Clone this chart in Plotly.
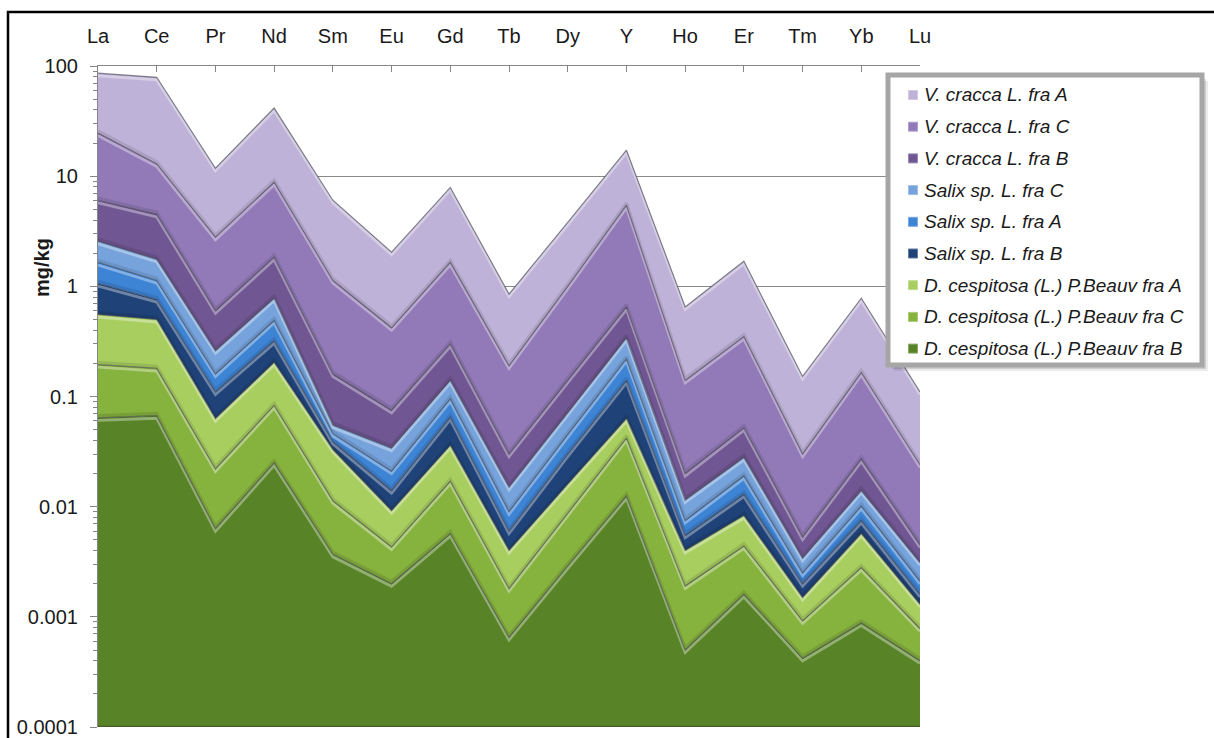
import plotly.graph_objects as go

# Rare-earth element concentrations (mg/kg); each list is the upper edge of its band
elements = ["La", "Ce", "Pr", "Nd", "Sm", "Eu", "Gd", "Tb", "Dy", "Y", "Ho", "Er", "Tm", "Yb", "Lu"]

dc_fra_B = [0.064, 0.067, 0.0063, 0.025, 0.0037, 0.002, 0.0057, 0.00065, 0.0029, 0.0125, 0.0005, 0.0016, 0.00042, 0.00088, 0.0004]
dc_fra_C = [0.195, 0.18, 0.022, 0.083, 0.0113, 0.0043, 0.017, 0.0018, 0.0087, 0.042, 0.0019, 0.0044, 0.00092, 0.0028, 0.00078]
dc_fra_A = [0.556, 0.5, 0.063, 0.204, 0.033, 0.0092, 0.036, 0.004, 0.016, 0.063, 0.004, 0.0083, 0.0015, 0.0057, 0.0013]
sx_fra_B = [1.06, 0.76, 0.11, 0.32, 0.039, 0.014, 0.065, 0.006, 0.03, 0.14, 0.0055, 0.013, 0.002, 0.0075, 0.0016]
sx_fra_A = [1.65, 1.13, 0.16, 0.49, 0.046, 0.021, 0.095, 0.009, 0.045, 0.22, 0.0075, 0.019, 0.0025, 0.0101, 0.0021]
sx_fra_C = [2.57, 1.76, 0.26, 0.78, 0.055, 0.034, 0.14, 0.015, 0.071, 0.34, 0.0115, 0.028, 0.0034, 0.014, 0.0031]
vc_fra_B = [6.05, 4.5, 0.6, 1.84, 0.16, 0.075, 0.30, 0.03, 0.14, 0.65, 0.02, 0.052, 0.0053, 0.027, 0.0045]
vc_fra_C = [24.6, 12.9, 2.79, 8.8, 1.13, 0.42, 1.65, 0.19, 1.0, 5.45, 0.14, 0.35, 0.030, 0.165, 0.024]
vc_fra_A = [86, 79, 11.8, 41.5, 6.05, 2.04, 7.9, 0.85, 3.8, 17.2, 0.65, 1.69, 0.152, 0.78, 0.11]

y_tick_vals = [0.0001, 0.001, 0.01, 0.1, 1, 10, 100]
y_tick_text = ["0.0001", "0.001", "0.01", "0.1", "1", "10", "100"]

# bands from the bottom of the stack to the top
bands = [
    ("D. cespitosa (L.) P.Beauv fra B", dc_fra_B, (88, 132, 39)),
    ("D. cespitosa (L.) P.Beauv fra C", dc_fra_C, (134, 178, 62)),
    ("D. cespitosa (L.) P.Beauv fra A", dc_fra_A, (168, 206, 96)),
    ("Salix sp. L. fra B", sx_fra_B, (31, 67, 120)),
    ("Salix sp. L. fra A", sx_fra_A, (62, 132, 212)),
    ("Salix sp. L. fra C", sx_fra_C, (118, 163, 220)),
    ("V. cracca L. fra B", vc_fra_B, (112, 86, 146)),
    ("V. cracca L. fra C", vc_fra_C, (146, 122, 184)),
    ("V. cracca L. fra A", vc_fra_A, (191, 178, 216)),
]

W, H = 1214, 738
X0, X1, Y0, Y1 = 98, 920, 66, 727   # plot area in pixels
DECADE_PX = (Y1 - Y0) / 6.0
FONT = "Liberation Sans, Arial, sans-serif"


def fx(x):
    return x / W


def fy(y):
    return 1 - y / H


def rgb(c, a=1.0):
    return f"rgba({c[0]},{c[1]},{c[2]},{a})"


def lighter(c, t):
    return tuple(int(v + (255 - v) * t) for v in c)


def shifted(vals, px):
    # move a boundary by a few screen pixels on the log axis (positive = up)
    f = 10 ** (px / DECADE_PX)
    return [v * f for v in vals]


fig = go.Figure()

# floor of the chart: the axis minimum
fig.add_trace(go.Scatter(x=elements, y=[y_tick_vals[0]] * len(elements), mode="lines",
                         line=dict(width=0), hoverinfo="skip", showlegend=False))

for name, vals, col in bands:
    fig.add_trace(go.Scatter(x=elements, y=vals, mode="lines", fill="tonexty",
                             fillcolor=rgb(col), line=dict(width=0),
                             name=name, showlegend=False))

# bevel look: soft shadow above each edge, dark rim on the edge, highlight under it
for i, (name, vals, col) in enumerate(bands):
    if i < len(bands) - 1:
        fig.add_trace(go.Scatter(x=elements, y=shifted(vals, 2.0), mode="lines",
                                 line=dict(color="rgba(0,0,0,0.10)", width=3.5),
                                 hoverinfo="skip", showlegend=False))
    fig.add_trace(go.Scatter(x=elements, y=shifted(vals, -2.6), mode="lines",
                             line=dict(color=rgb(lighter(col, 0.42), 0.85), width=2.8),
                             hoverinfo="skip", showlegend=False))
    fig.add_trace(go.Scatter(x=elements, y=vals, mode="lines",
                             line=dict(color="rgba(60,60,70,0.6)", width=1.2),
                             hoverinfo="skip", showlegend=False))

fig.add_trace(go.Scatter(x=elements, y=[y_tick_vals[0]] * len(elements), mode="lines",
                         line=dict(color="rgba(70,85,40,0.8)", width=2.5),
                         hoverinfo="skip", showlegend=False))

minor_vals = [k * 10 ** e for e in range(-4, 2) for k in range(2, 10)]

fig.update_layout(
    width=W, height=H, margin=dict(l=0, r=0, t=0, b=0),
    paper_bgcolor="white", plot_bgcolor="white", showlegend=False,
    font=dict(family=FONT, color="#1a1a1a"),
    xaxis=dict(domain=[fx(X0), fx(X1)], type="category", range=[0, len(elements) - 1],
               side="top", showline=True, linecolor="#868686", linewidth=1.2,
               ticks="inside", ticklen=6, tickcolor="#868686", showgrid=False,
               tickfont=dict(size=20, family=FONT, color="#1a1a1a"),
               ticklabelstandoff=14, automargin=False, zeroline=False),
    yaxis=dict(domain=[fy(Y1), fy(Y0)], type="log", range=[-4, 2],
               tickmode="array", tickvals=y_tick_vals, ticktext=y_tick_text,
               ticks="outside", ticklen=7, tickcolor="#868686",
               showline=True, linecolor="#868686", linewidth=1.2,
               showgrid=True, gridcolor="#8a8a8a", gridwidth=1.2,
               minor=dict(tickmode="array", tickvals=minor_vals, ticks="outside",
                          ticklen=4, tickcolor="#868686", showgrid=False),
               tickfont=dict(size=20, family=FONT, color="#1a1a1a"),
               ticklabelstandoff=8, automargin=False, zeroline=False),
)

shapes = []
# chart frame
shapes.append(dict(type="rect", xref="paper", yref="paper", x0=fx(8), x1=fx(1230),
                   y0=fy(12), y1=fy(760), line=dict(color="black", width=2.5),
                   fillcolor="rgba(0,0,0,0)", layer="above"))

# legend box with soft shadow
LX0, LX1, LY0, LY1 = 888, 1202, 75, 365
for off, a in [(6, 0.08), (4, 0.12), (2, 0.18)]:
    shapes.append(dict(type="rect", xref="paper", yref="paper",
                       x0=fx(LX0 + off), x1=fx(LX1 + off), y0=fy(LY0 + off), y1=fy(LY1 + off),
                       line=dict(width=0), fillcolor=f"rgba(0,0,0,{a})", layer="above"))
shapes.append(dict(type="rect", xref="paper", yref="paper", x0=fx(LX0), x1=fx(LX1),
                   y0=fy(LY0), y1=fy(LY1), line=dict(color="#a6a6a6", width=5),
                   fillcolor="white", layer="above"))

annotations = [dict(text="<b>mg/kg</b>", x=fx(29), y=fy(268), xref="paper", yref="paper",
                    textangle=-90, showarrow=False, font=dict(size=20, family=FONT, color="#1a1a1a"))]

row_y0, row_step = 95, 31.7
for i, (name, vals, col) in enumerate(reversed(bands)):
    cy = row_y0 + i * row_step
    shapes.append(dict(type="rect", xref="paper", yref="paper",
                       x0=fx(908.5), x1=fx(917.5), y0=fy(cy - 4.5), y1=fy(cy + 4.5),
                       line=dict(color=rgb(lighter(col, 0.3)), width=1),
                       fillcolor=rgb(col), layer="above"))
    annotations.append(dict(text=f"<i>{name}</i>", x=fx(922), y=fy(cy), xref="paper", yref="paper",
                            xanchor="left", yanchor="middle", showarrow=False,
                            font=dict(size=19, family=FONT, color="#1a1a1a")))

fig.update_layout(shapes=shapes, annotations=annotations)

fig.write_html("out.html")
